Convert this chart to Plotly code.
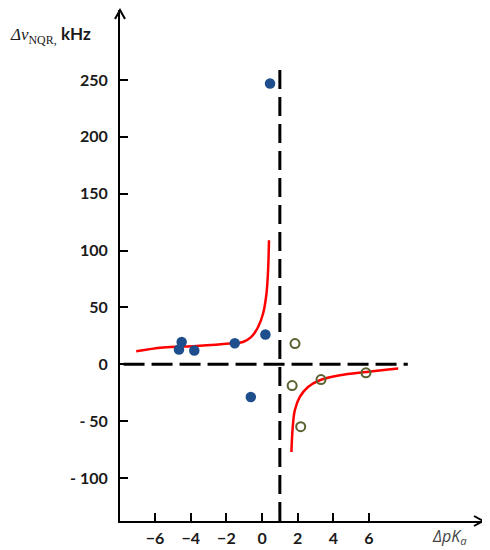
import plotly.graph_objects as go

# measured points (filled = blue, open = olive)
filled_x = [-4.51, -4.66, -3.80, -1.53, 0.19, -0.63, 0.45]
filled_y = [19.6, 12.9, 12.1, 18.5, 26.1, -28.8, 247]

open_x = [1.85, 1.69, 3.31, 5.83, 2.17]
open_y = [18.2, -18.8, -13.5, -7.6, -54.9]

# red fitted curves
left_curve_x = [-7.06, -5.56, -3.69, -1.81, -1.07, -0.60, -0.22, 0.06, 0.25, 0.34, 0.39]
left_curve_y = [11.4, 14.7, 16.1, 18.2, 19.6, 24.0, 32.8, 44.6, 62.2, 82.7, 109]

right_curve_x = [1.65, 1.71, 1.84, 2.12, 2.58, 3.24, 4.37, 5.87, 7.64]
right_curve_y = [-77.2, -58.1, -40.5, -28.8, -20.0, -14.1, -9.7, -6.8, -3.8]

# dashed asymptotes
vline_x = [1.0, 1.0]
vline_y = [-138, 261]
hline_x = [-7.77, 8.18]
hline_y = [0, 0]

x_ticks = [-6, -4, -2, 0, 2, 4, 6]
y_ticks = [-100, -50, 0, 50, 100, 150, 200, 250]
y_ticktext = ["- 100", "- 50", "0", "50", "100", "150", "200", "250"]

x_range = [-7.97, 12.4]
y_range = [-137.9, 311.6]

# page body has an 8px margin, so the figure is a little smaller than the window
W, H = 482, 542
margin = dict(l=112, r=7, t=2, b=29)
plot_w = W - margin["l"] - margin["r"]
plot_h = H - margin["t"] - margin["b"]

tick_font = dict(family="Lato", size=16, color="#1a1a1a", weight="bold")

fig = go.Figure()

fig.add_trace(go.Scatter(x=vline_x, y=vline_y, mode="lines",
                         line=dict(color="black", width=3, dash="19px,8px")))
fig.add_trace(go.Scatter(x=hline_x, y=hline_y, mode="lines",
                         line=dict(color="black", width=3, dash="21px,7px")))

fig.add_trace(go.Scatter(x=left_curve_x, y=left_curve_y, mode="lines",
                         line=dict(color="#ff0000", width=2.5, shape="spline")))
fig.add_trace(go.Scatter(x=right_curve_x, y=right_curve_y, mode="lines",
                         line=dict(color="#ff0000", width=2.5, shape="spline")))

fig.add_trace(go.Scatter(x=filled_x, y=filled_y, mode="markers",
                         marker=dict(color="#1f4e8c", size=10.5)))
fig.add_trace(go.Scatter(x=open_x, y=open_y, mode="markers",
                         marker=dict(symbol="circle-open", color="#5b6130", size=9,
                                     line=dict(width=2))))

fig.update_xaxes(range=x_range, showgrid=False, zeroline=False,
                 showline=True, linecolor="black", linewidth=2,
                 ticks="inside", ticklen=8, tickwidth=1.5, tickcolor="black",
                 tickvals=x_ticks, tickfont=tick_font, ticklabelstandoff=2)
fig.update_yaxes(range=y_range, showgrid=False, zeroline=False,
                 showline=True, linecolor="black", linewidth=2,
                 ticks="inside", ticklen=8, tickwidth=1.5, tickcolor="black",
                 tickvals=y_ticks, ticktext=y_ticktext, tickfont=tick_font,
                 ticklabelstandoff=7)

# open arrow heads at the ends of the axes (sizes in px -> paper units)
arm_back, arm_half = 9, 5
ax_b, ax_h = arm_back / plot_w, arm_half / plot_h
ay_b, ay_h = arm_back / plot_h, arm_half / plot_w
arrow_line = dict(color="black", width=2)
fig.add_shape(type="path", xref="paper", yref="paper", line=arrow_line,
              path=f"M {1 - ax_b} {ax_h} L 1 0 L {1 - ax_b} {-ax_h}")
fig.add_shape(type="path", xref="paper", yref="paper", line=arrow_line,
              path=f"M {-ay_h} {1 - ay_b} L 0 1 L {ay_h} {1 - ay_b}")

# axis titles
fig.add_annotation(xref="paper", yref="paper", x=-0.308, y=0.951,
                   xanchor="left", yanchor="middle", showarrow=False,
                   text="<span style='font-family:Liberation Serif'><i>Δν</i><sub>NQR,</sub></span>"
                        " <b>kHz</b>",
                   font=dict(family="Lato", size=17, color="#1a1a1a"))
fig.add_annotation(xref="paper", yref="paper", x=0.854, y=-0.031,
                   xanchor="left", yanchor="middle", showarrow=False,
                   text="<i>ΔpK<sub>a</sub></i>",
                   font=dict(family="Open Sans", size=16, color="#444444"))

fig.update_layout(width=W, height=H, autosize=False, margin=margin,
                  plot_bgcolor="white", paper_bgcolor="white",
                  showlegend=False)

fig.write_html("out.html")
